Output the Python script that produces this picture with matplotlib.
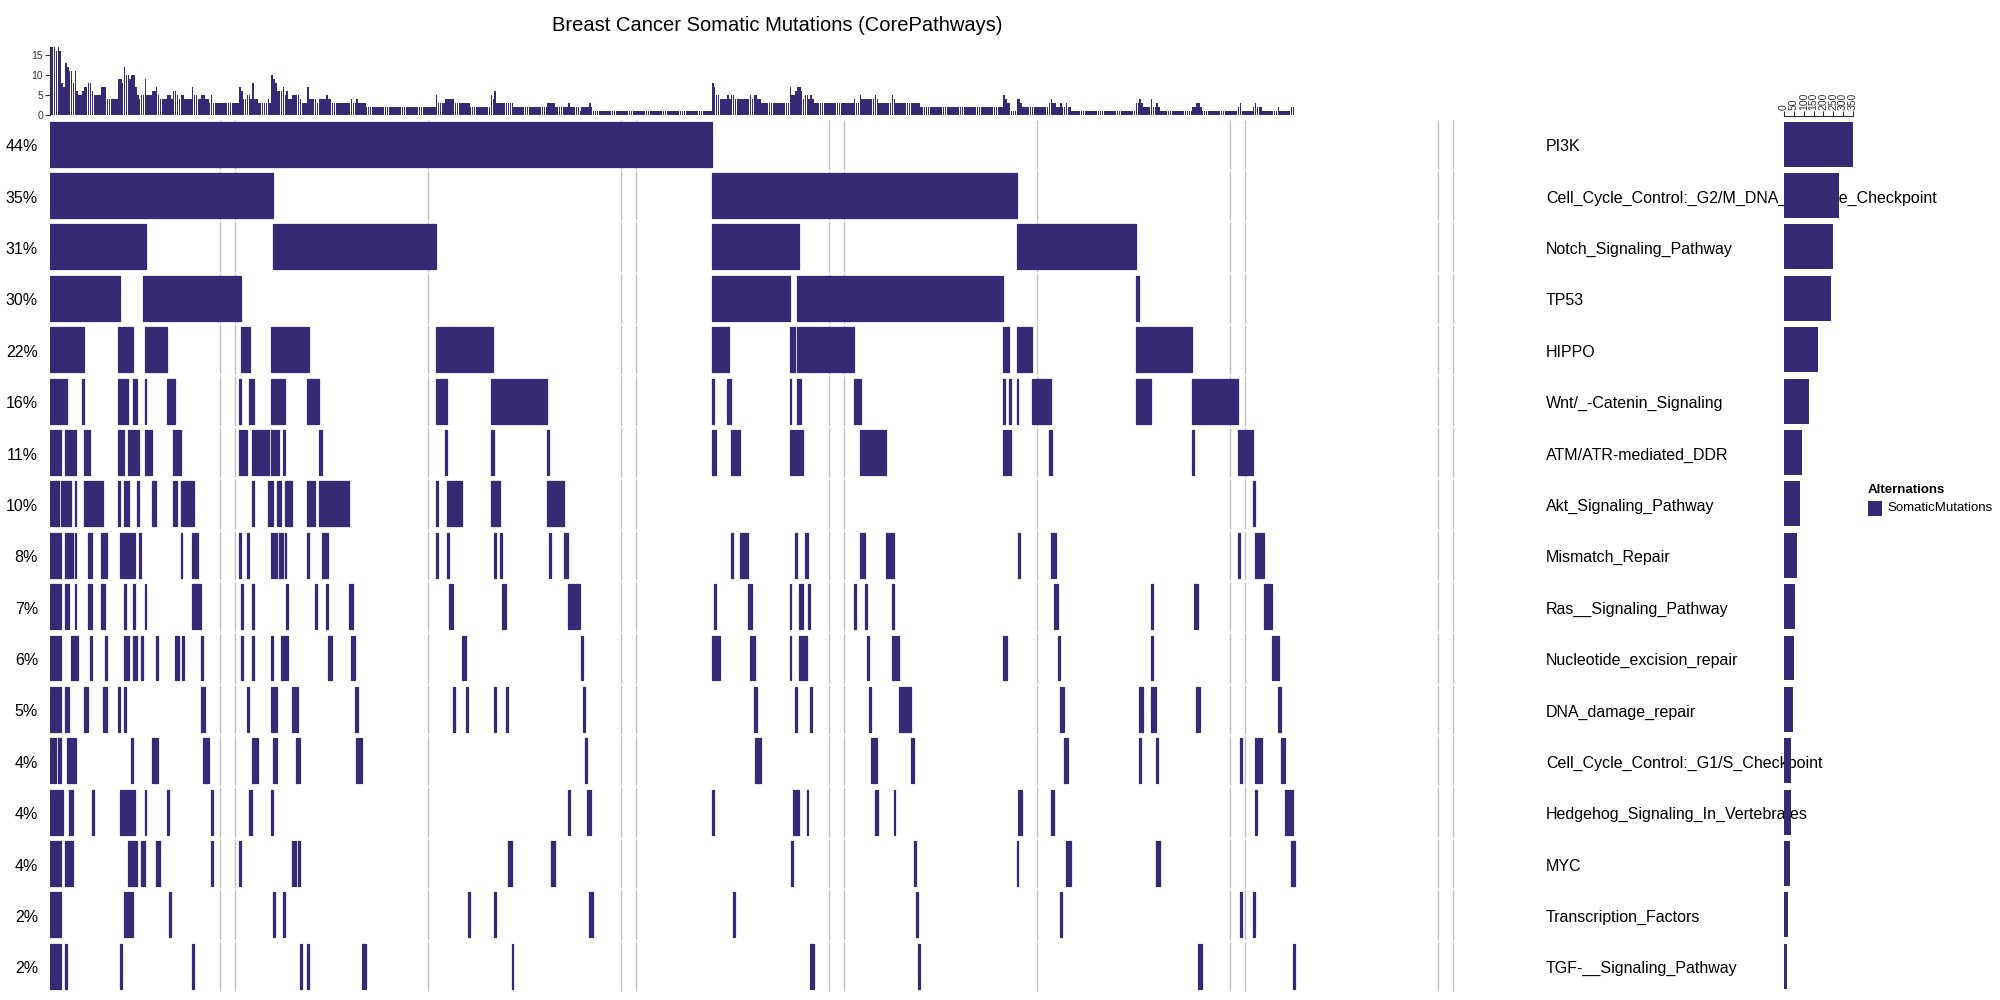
import numpy as np
import matplotlib
matplotlib.use("Agg")
import matplotlib.pyplot as plt
from matplotlib.patches import Rectangle

plt.rcParams['font.family'] = ['Liberation Sans', 'DejaVu Sans']

# ---------------- data ----------------
title = "Breast Cancer Somatic Mutations (CorePathways)"
pathways = ["PI3K", "Cell_Cycle_Control:_G2/M_DNA_Damage_Checkpoint",
            "Notch_Signaling_Pathway", "TP53", "HIPPO", "Wnt/_-Catenin_Signaling",
            "ATM/ATR-mediated_DDR", "Akt_Signaling_Pathway", "Mismatch_Repair",
            "Ras__Signaling_Pathway", "Nucleotide_excision_repair", "DNA_damage_repair",
            "Cell_Cycle_Control:_G1/S_Checkpoint", "Hedgehog_Signaling_In_Vertebrates",
            "MYC", "Transcription_Factors", "TGF-__Signaling_Pathway"]
pct_labels = ["44%", "35%", "31%", "30%", "22%", "16%", "11%", "10%", "8%", "7%",
              "6%", "5%", "4%", "4%", "4%", "2%", "2%"]
pathway_counts = [350, 279, 248, 238, 172, 127, 91, 81, 66, 56, 51, 46, 35, 35, 30, 20, 15]
n_samples = 795
count_ticks = [0, 50, 100, 150, 200, 250, 300, 350]
top_ticks = [0, 5, 10, 15]
legend_title = "Alternations"
legend_label = "SomaticMutations"
# sample indices where the grey separator lines fall
grid_samples = [90, 98, 200, 302, 310, 412, 420, 522, 624, 632, 734, 742]

# mutated sample ranges (first, last-exclusive) per pathway, in sample order
seg_pi3k = [(0, 350)]
seg_g2m = [(0, 118), (350, 511)]
seg_notch = [(0, 51), (118, 204), (350, 396), (511, 574)]
seg_tp53 = [(0, 37), (49, 101), (350, 391), (395, 504), (574, 576)]
seg_hippo = [(0, 18), (36, 44), (50, 62), (101, 106), (117, 137), (204, 234), (350, 359),
             (391, 394), (395, 425), (504, 507), (511, 519), (574, 604)]
seg_wnt = [(0, 9), (17, 18), (36, 41), (44, 46), (50, 51), (62, 66), (100, 101), (105, 108),
           (117, 124), (136, 142), (204, 210), (233, 263), (350, 351), (358, 360), (391, 392),
           (395, 397), (425, 429), (504, 505), (507, 508), (511, 512), (519, 529), (574, 582),
           (604, 628)]
seg_atm = [(0, 6), (8, 14), (18, 21), (36, 39), (41, 47), (50, 54), (65, 69), (100, 104),
           (107, 116), (117, 121), (123, 124), (142, 144), (209, 210), (233, 235), (263, 264),
           (350, 352), (360, 365), (391, 398), (428, 442), (504, 508), (528, 530), (604, 605),
           (628, 636)]
seg_akt = [(0, 5), (6, 11), (13, 14), (18, 28), (36, 37), (39, 42), (46, 47), (54, 56),
           (65, 67), (69, 76), (107, 108), (115, 118), (120, 122), (124, 128), (136, 140),
           (142, 158), (204, 205), (210, 218), (233, 238), (263, 272), (636, 637)]
seg_mmr = [(0, 6), (8, 12), (13, 14), (20, 22), (27, 30), (37, 45), (47, 48), (69, 70),
           (75, 78), (100, 101), (104, 105), (117, 120), (121, 123), (124, 125), (136, 137),
           (144, 147), (204, 205), (210, 211), (235, 236), (238, 239), (264, 265), (272, 274),
           (360, 361), (365, 369), (394, 395), (399, 401), (428, 431), (442, 446), (512, 513),
           (529, 532), (628, 629), (637, 642)]
seg_ras = [(0, 6), (8, 10), (13, 14), (20, 22), (27, 29), (39, 40), (44, 45), (50, 51),
           (75, 80), (101, 102), (107, 108), (125, 126), (140, 141), (146, 147), (158, 160),
           (211, 213), (239, 241), (274, 280), (351, 352), (369, 371), (391, 392), (396, 398),
           (401, 402), (425, 426), (431, 432), (445, 446), (531, 533), (582, 583), (605, 607),
           (642, 646)]
seg_ner = [(0, 6), (11, 15), (21, 22), (29, 30), (39, 42), (44, 46), (48, 49), (56, 57),
           (66, 68), (70, 71), (80, 81), (101, 102), (107, 108), (117, 118), (122, 124),
           (125, 126), (147, 149), (159, 161), (218, 220), (281, 282), (350, 354), (370, 373),
           (391, 392), (396, 400), (432, 433), (445, 449), (504, 506), (533, 534), (582, 583),
           (646, 650)]
seg_dna = [(0, 6), (8, 10), (18, 20), (28, 30), (36, 37), (39, 40), (80, 82), (104, 105),
           (117, 120), (128, 131), (161, 163), (213, 214), (220, 221), (235, 236), (241, 242),
           (282, 283), (372, 374), (394, 395), (402, 403), (433, 434), (449, 455), (534, 536),
           (576, 578), (582, 585), (606, 608), (649, 651)]
seg_g1s = [(0, 3), (4, 6), (9, 14), (43, 44), (54, 57), (81, 84), (107, 110), (118, 120),
           (130, 132), (162, 165), (283, 284), (373, 376), (434, 437), (455, 457), (536, 538),
           (576, 577), (585, 586), (629, 630), (637, 641), (651, 653)]
seg_hh = [(0, 7), (10, 12), (22, 23), (37, 45), (50, 51), (62, 63), (85, 86), (105, 107),
          (117, 118), (274, 275), (284, 286), (350, 351), (393, 396), (400, 401), (436, 438),
          (446, 447), (512, 514), (529, 531), (637, 638), (653, 657)]
seg_myc = [(0, 6), (8, 12), (41, 46), (48, 50), (56, 58), (85, 86), (100, 101), (128, 130),
           (131, 132), (242, 244), (265, 267), (392, 393), (457, 458), (511, 512), (537, 540),
           (585, 587), (656, 658)]
seg_tf = [(0, 6), (39, 41), (42, 44), (63, 64), (118, 119), (123, 124), (221, 222),
          (235, 236), (285, 287), (361, 362), (458, 459), (534, 535), (629, 630), (636, 637)]
seg_tgf = [(0, 6), (8, 9), (37, 38), (75, 76), (132, 133), (136, 137), (165, 167),
           (244, 245), (402, 404), (459, 460), (607, 609), (657, 658)]

segments = [seg_pi3k, seg_g2m, seg_notch, seg_tp53, seg_hippo, seg_wnt, seg_atm, seg_akt,
            seg_mmr, seg_ras, seg_ner, seg_dna, seg_g1s, seg_hh, seg_myc, seg_tf, seg_tgf]

# ---------------- build matrix ----------------
n_rows = len(pathways)
mat = np.zeros((n_rows, n_samples), dtype=int)
for i, segs in enumerate(segments):
    for s, e in segs:
        mat[i, s:e] = 1
col_sums = mat.sum(axis=0)

# ---------------- layout ----------------
COL = '#372A74'
W, H = 2000, 1000
PX = 1.8914  # pixels per sample


def rect(x0, y0, x1, y1):
    return [x0 / W, 1 - y1 / H, (x1 - x0) / W, (y1 - y0) / H]


fig = plt.figure(figsize=(20, 10), dpi=100)
fig.patch.set_facecolor('white')

x_left = 50
x_right = x_left + n_samples * PX
y_top, y_bot = 118.5, 992
tile_h = 0.875
tile_off = (1 - tile_h) / 2

# main oncoprint
ax = fig.add_axes(rect(x_left, y_top, x_right, y_bot))
ax.set_xlim(0, n_samples)
ax.set_ylim(n_rows, 0)
ax.axis('off')
for i in range(n_rows):
    ax.vlines(grid_samples, i + 0.02, i + 0.98, color='#BEBEBE', lw=1.0, zorder=1)
for i, segs in enumerate(segments):
    ax.broken_barh([(s, e - s) for s, e in segs], (i + tile_off, tile_h),
                   facecolor=COL, edgecolor=COL, linewidth=0.9, zorder=2)
for i in range(n_rows):
    ax.text((38 - x_left) / PX, i + 0.55, pct_labels[i], ha='right', va='center',
            fontsize=11.5, color='black', clip_on=False)
    ax.text((1546 - x_left) / PX, i + 0.55, pathways[i], ha='left', va='center',
            fontsize=11.5, color='black', clip_on=False, zorder=0)

# top barplot
axt = fig.add_axes(rect(x_left, 47, x_right, 115))
axt.bar(np.arange(n_samples), col_sums, width=0.82, align='edge', color=COL,
        linewidth=0, antialiased=False)
axt.set_xlim(0, n_samples)
axt.set_ylim(0, 17)
for sp in ['top', 'right', 'bottom']:
    axt.spines[sp].set_visible(False)
axt.spines['left'].set_color('#333333')
axt.spines['left'].set_linewidth(0.9)
axt.set_xticks([])
axt.set_yticks(top_ticks)
axt.tick_params(axis='y', labelsize=7.5, length=3.5, width=0.8, colors='#333333', pad=1.5)
axt.patch.set_visible(False)

# right barplot
axr = fig.add_axes(rect(1784, y_top, 1784 + 69, y_bot))
axr.barh(np.arange(n_rows) + 0.5, pathway_counts, height=tile_h, color=COL, linewidth=0)
axr.set_xlim(0, 350)
axr.set_ylim(n_rows, 0)
for sp in ['bottom', 'right', 'left']:
    axr.spines[sp].set_visible(False)
axr.spines['top'].set_position(('outward', 1.5))
axr.spines['top'].set_color('#333333')
axr.spines['top'].set_linewidth(0.8)
axr.xaxis.tick_top()
axr.set_xticks(count_ticks)
axr.set_xticklabels([str(t) for t in count_ticks], rotation=90)
axr.tick_params(axis='x', labelsize=7.5, length=3.5, width=0.8, colors='#333333', pad=1)
axr.set_yticks([])
axr.patch.set_visible(False)

# legend
fig.text(1868 / W, 1 - 490.5 / H, legend_title, fontweight='bold', fontsize=9.5,
         ha='left', va='center')
fig.add_artist(Rectangle((1868 / W, 1 - 516 / H), 14 / W, 15 / H,
                         transform=fig.transFigure, facecolor=COL, edgecolor='none'))
fig.text(1887 / W, 1 - 508.5 / H, legend_label, fontsize=9.5, ha='left', va='center')

# title
fig.text(777 / W, 1 - 25.5 / H, title, ha='center', va='center', fontsize=14.5)

fig.savefig('out.png', dpi=100, facecolor='white')
